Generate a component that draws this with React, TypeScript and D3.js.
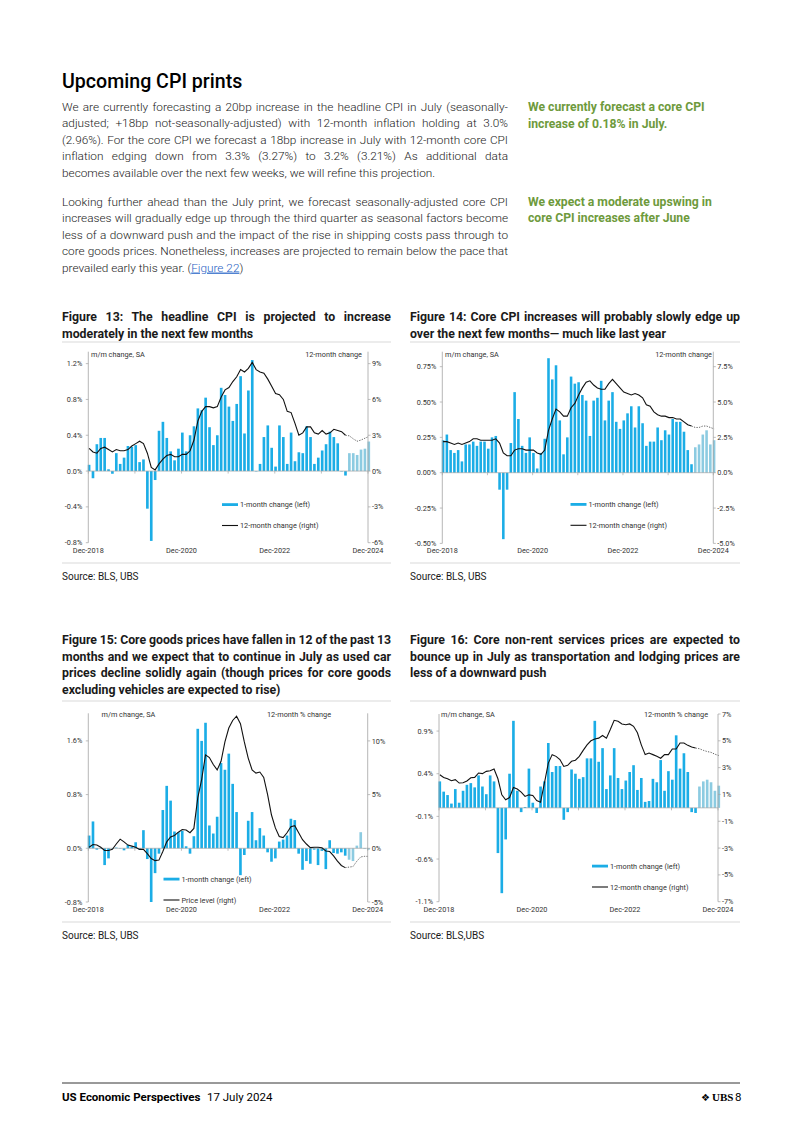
import React, { useEffect, useRef } from 'react';
import * as d3 from 'd3';

// monthly categories, Dec-2018 .. Dec-2024 (Jul-2024 onward is the UBS forecast)
const months = d3.timeMonth
  .range(new Date(2018, 11, 1), new Date(2025, 0, 1))
  .map(d3.timeFormat('%b-%Y'));
const firstForecast = 'Jul-2024';
const dateLabels = ['Dec-2018', 'Dec-2020', 'Dec-2022', 'Dec-2024'];
const yearTicks = ['Dec-2018', 'Dec-2019', 'Dec-2020', 'Dec-2021', 'Dec-2022', 'Dec-2023', 'Dec-2024'];

// Figure 13: headline CPI
const headlineMoM = [
  0.07, -0.08, 0.30, 0.37, 0.37, 0.02, -0.03, 0.20, 0.08, 0.15, 0.28, 0.27, 0.29,
  0.10, 0.13, -0.42, -0.78, -0.10, 0.45, 0.55, 0.37, 0.22, 0.12, 0.25, 0.43,
  0.22, 0.40, 0.50, 0.70, 0.68, 0.82, 0.49, 0.29, 0.40, 0.93, 0.85, 0.72,
  0.56, 0.75, 1.06, 0.42, 0.90, 1.24, 0.00, 0.08, 0.38, 0.51, 0.26, 0.05,
  0.51, 0.38, 0.08, 0.43, 0.11, 0.21, 0.20, 0.50, 0.38, 0.08, 0.15, 0.23,
  0.30, 0.44, 0.38, 0.31, 0.00, -0.05, 0.20, 0.20, 0.18, 0.24, 0.25, 0.33,
];
const headlineYoY = [
  1.9, 1.6, 1.5, 1.9, 2.0, 1.8, 1.6, 1.8, 1.7, 1.7, 1.8, 2.1, 2.3,
  2.5, 2.3, 1.5, 0.3, 0.1, 0.6, 1.0, 1.3, 1.4, 1.2, 1.2, 1.4,
  1.4, 1.7, 2.6, 4.2, 5.0, 5.4, 5.4, 5.3, 5.4, 6.2, 6.8, 7.0,
  7.5, 7.9, 8.5, 8.3, 8.6, 9.1, 8.5, 8.3, 8.2, 7.7, 7.1, 6.5,
  6.4, 6.0, 5.0, 4.9, 4.0, 3.0, 3.2, 3.7, 3.7, 3.2, 3.1, 3.4,
  3.1, 3.2, 3.5, 3.4, 3.3, 3.0, 2.95, 2.7, 2.5, 2.6, 2.75, 2.9,
];

// Figure 14: core CPI
const coreMoM = [
  0.23, 0.27, 0.16, 0.14, 0.16, 0.08, 0.20, 0.20, 0.22, 0.19, 0.22, 0.22, 0.17,
  0.25, 0.26, -0.12, -0.47, -0.12, 0.21, 0.57, 0.38, 0.19, 0.14, 0.25, 0.14,
  0.03, 0.14, 0.24, 0.81, 0.66, 0.76, 0.37, 0.13, 0.25, 0.68, 0.63, 0.64,
  0.55, 0.51, 0.26, 0.51, 0.53, 0.65, 0.37, 0.51, 0.57, 0.36, 0.31, 0.37,
  0.42, 0.47, 0.32, 0.47, 0.35, 0.19, 0.22, 0.22, 0.32, 0.23, 0.30, 0.27,
  0.38, 0.36, 0.36, 0.29, 0.16, 0.06, 0.18, 0.20, 0.27, 0.30, 0.20, 0.23,
];
const coreYoY = [
  2.2, 2.2, 2.1, 2.0, 2.1, 2.0, 2.1, 2.2, 2.4, 2.4, 2.3, 2.3, 2.3,
  2.3, 2.4, 2.1, 1.4, 1.2, 1.2, 1.6, 1.7, 1.7, 1.6, 1.6, 1.6,
  1.4, 1.3, 1.6, 3.0, 3.8, 4.5, 4.3, 4.0, 4.0, 4.6, 4.9, 5.5,
  6.0, 6.4, 6.5, 6.2, 6.0, 5.9, 5.9, 6.3, 6.6, 6.3, 6.0, 5.7,
  5.6, 5.5, 5.6, 5.5, 5.3, 4.8, 4.7, 4.3, 4.1, 4.0, 4.0, 3.9,
  3.9, 3.8, 3.8, 3.6, 3.4, 3.3, 3.2, 3.2, 3.3, 3.3, 3.2, 3.1,
];

// Figure 15: core goods
const goodsMoM = [
  0.19, 0.40, -0.02, 0.00, -0.25, -0.15, 0.00, 0.01, 0.00, -0.03, 0.05, 0.02, 0.09,
  -0.02, 0.27, -0.16, -0.80, -0.37, -0.08, 0.57, 0.93, 0.71, 0.25, 0.24, 0.26,
  0.03, -0.08, 0.18, 1.78, 1.60, 1.87, 0.34, 0.22, 0.47, 1.27, 1.17, 1.41,
  0.96, 0.54, -0.40, -0.10, 0.41, 0.54, 0.12, 0.30, 0.19, -0.06, -0.20, -0.15,
  0.10, 0.13, 0.19, 0.44, 0.42, -0.08, -0.32, -0.19, -0.23, -0.02, -0.25, -0.04,
  -0.31, 0.12, -0.07, -0.08, -0.06, -0.11, -0.17, -0.19, 0.04, 0.24, -0.01, -0.02,
];
const goodsYoY = [
  0.1, 0.35, 0.3, 0.1, -0.2, -0.2, -0.1, 0.4, 0.85, 0.6, 0.3, 0.2, 0.1,
  -0.1, -0.1, -0.5, -0.95, -1.15, -1.1, -0.3, 0.6, 1.05, 1.2, 1.5, 1.75,
  1.7, 1.45, 1.85, 4.7, 6.4, 8.7, 8.45, 7.8, 7.3, 8.1, 9.9, 11.2,
  11.9, 12.3, 11.6, 9.9, 8.4, 7.3, 7.0, 7.1, 6.6, 5.0, 3.1, 1.9,
  1.1, 1.0, 1.45, 2.0, 2.1, 1.45, 0.8, 0.4, 0.06, 0.1, 0.1, 0.05,
  -0.25, -0.3, -0.7, -1.2, -1.6, -1.8, -1.75, -1.7, -1.2, -0.8, -0.75, -0.75,
];

// Figure 16: core non-rent services
const servicesMoM = [
  0.31, 0.19, 0.15, 0.05, 0.22, 0.06, 0.20, 0.27, 0.29, 0.24, 0.38, 0.25, 0.16,
  0.38, 0.31, -0.53, -1.00, -0.37, 0.40, 1.02, 0.20, -0.05, 0.01, 0.46, 0.06,
  -0.06, 0.25, 0.31, 0.76, 0.42, 0.49, 0.49, -0.14, -0.05, 0.45, 0.40, 0.34,
  0.36, 0.58, 0.58, 1.02, 0.54, 0.70, 0.22, 0.38, 0.70, 0.35, 0.22, 0.32,
  0.42, 0.50, 0.21, 0.35, 0.07, 0.08, 0.34, 0.30, 0.56, 0.20, 0.43, 0.33,
  0.85, 0.46, 0.64, 0.42, -0.05, -0.06, 0.25, 0.31, 0.33, 0.30, 0.20, 0.26,
];
const servicesYoY = [
  2.47, 2.27, 2.17, 2.02, 2.1, 1.85, 1.87, 2.0, 2.24, 2.27, 2.6, 2.55, 2.72,
  2.77, 2.9, 2.17, 0.97, 0.6, 0.77, 1.52, 1.4, 1.17, 0.85, 0.97, 0.92,
  0.55, 0.42, 1.85, 3.34, 3.97, 3.84, 3.6, 3.09, 3.17, 3.47, 3.55, 3.84,
  4.29, 4.7, 5.0, 5.14, 5.2, 5.4, 5.2, 5.84, 6.53, 6.46, 6.26, 6.2,
  6.26, 6.08, 5.6, 4.7, 3.97, 4.09, 3.97, 3.84, 3.7, 3.97, 3.97, 4.39,
  4.39, 4.84, 4.84, 4.66, 4.54, 4.46, 4.41, 4.29, 4.2, 4.14, 4.0, 3.9,
];

const para1 = [
  'We are currently forecasting a 20bp increase in the headline CPI in July (seasonally-',
  'adjusted; +18bp not-seasonally-adjusted) with 12-month inflation holding at 3.0%',
  '(2.96%). For the core CPI we forecast a 18bp increase in July with 12-month core CPI',
  'inflation edging down from 3.3% (3.27%) to 3.2% (3.21%) As additional data',
  'becomes available over the next few weeks, we will refine this projection.',
];
const para2 = [
  'Looking further ahead than the July print, we forecast seasonally-adjusted core CPI',
  'increases will gradually edge up through the third quarter as seasonal factors become',
  'less of a downward push and the impact of the rise in shipping costs pass through to',
  'core goods prices. Nonetheless, increases are projected to remain below the pace that',
];

const BLUE = '#1badE6';
const LIGHT = '#8ccbe1';
const AXIS = '#a3a3a3';
const GREEN = '#6e9a3c';
const FONT = "Roboto, 'Liberation Sans', sans-serif";

const minus = (s: string) => s.replace('−', '-');
const pct1 = (d: number) => minus(d3.format('.1%')(d / 100));
const pct2 = (d: number) => minus(d3.format('.2%')(d / 100));

type Panel = {
  x0: number; x1: number; y0: number; y1: number;
  left: [number, number]; right: [number, number];
  leftTicks: number[]; rightTicks: number[];
  leftFmt: (d: number) => string; rightFmt: (d: number) => string;
  bars: number[]; line: number[];
  headL: [number, number]; headR: [number, number]; headRText: string;
  leg: [number, number]; legLine: string;
  labelY: number;
};

function drawPanel(node: SVGGElement, p: Panel) {
  const g = d3.select(node);
  g.selectAll('*').remove();
  const x = d3.scalePoint<string>().domain(months).range([p.x0, p.x1]);
  const yL = d3.scaleLinear().domain(p.left).range([p.y1, p.y0]);
  const yR = d3.scaleLinear().domain(p.right).range([p.y1, p.y0]);
  const bw = x.step() * 0.68;
  const cx = (m: string) => (x(m) as number) + 0.8;
  const fIdx = months.indexOf(firstForecast);

  // bars
  g.append('g')
    .selectAll('rect')
    .data(p.bars.map((v, i) => ({ v, i, m: months[i] })))
    .join('rect')
    .attr('x', d => cx(d.m) - bw / 2)
    .attr('y', d => Math.min(yL(d.v), yL(0)))
    .attr('width', bw)
    .attr('height', d => Math.max(0.4, Math.abs(yL(d.v) - yL(0))))
    .attr('fill', d => (d.i >= fIdx ? LIGHT : BLUE));

  // zero line with yearly ticks
  g.append('line')
    .attr('x1', p.x0).attr('x2', p.x1)
    .attr('y1', yL(0)).attr('y2', yL(0))
    .attr('stroke', AXIS).attr('stroke-width', 0.7);
  g.append('g')
    .selectAll('line')
    .data(yearTicks)
    .join('line')
    .attr('x1', d => x(d) as number).attr('x2', d => x(d) as number)
    .attr('y1', yL(0)).attr('y2', yL(0) + 2.5)
    .attr('stroke', AXIS).attr('stroke-width', 0.7);

  // 12-month line: actual solid, forecast dotted
  const solid = p.line.slice(0, fIdx);
  g.append('path')
    .attr('d', d3.line<number>().x((_, i) => cx(months[i])).y(d => yR(d))(solid))
    .attr('fill', 'none').attr('stroke', '#111').attr('stroke-width', 1.1);
  const dotted = p.line.slice(fIdx - 1);
  g.append('path')
    .attr('d', d3.line<number>().x((_, i) => cx(months[i + fIdx - 1])).y(d => yR(d))(dotted))
    .attr('fill', 'none').attr('stroke', '#555').attr('stroke-width', 0.9)
    .attr('stroke-dasharray', '1.3 1.3');

  // axes
  const ax = g.append('g').attr('font-family', FONT).attr('font-size', 7.3).attr('fill', '#333');
  ax.append('line').attr('x1', p.x0).attr('x2', p.x0).attr('y1', p.y0).attr('y2', p.y1)
    .attr('stroke', AXIS).attr('stroke-width', 0.8);
  ax.append('line').attr('x1', p.x1).attr('x2', p.x1).attr('y1', p.y0).attr('y2', p.y1)
    .attr('stroke', AXIS).attr('stroke-width', 0.8);
  p.leftTicks.forEach(t => {
    ax.append('line').attr('x1', p.x0 - 2.5).attr('x2', p.x0).attr('y1', yL(t)).attr('y2', yL(t))
      .attr('stroke', AXIS).attr('stroke-width', 0.7);
    ax.append('text').attr('x', p.x0 - 6).attr('y', yL(t) + 2.6).attr('text-anchor', 'end').text(p.leftFmt(t));
  });
  p.rightTicks.forEach(t => {
    ax.append('line').attr('x1', p.x1).attr('x2', p.x1 + 2.5).attr('y1', yR(t)).attr('y2', yR(t))
      .attr('stroke', AXIS).attr('stroke-width', 0.7);
    ax.append('text').attr('x', p.x1 + 4).attr('y', yR(t) + 2.6).text(p.rightFmt(t));
  });
  dateLabels.forEach(m => {
    ax.append('text').attr('x', x(m) as number).attr('y', p.labelY).attr('text-anchor', 'middle').text(m);
  });
  ax.append('text').attr('x', p.headL[0]).attr('y', p.headL[1]).text('m/m change, SA');
  ax.append('text').attr('x', p.headR[0]).attr('y', p.headR[1]).attr('text-anchor', 'end').text(p.headRText);

  // legend
  const [lx, ly] = p.leg;
  ax.append('rect').attr('x', lx).attr('y', ly - 1.3).attr('width', 16).attr('height', 2.8).attr('fill', BLUE);
  ax.append('text').attr('x', lx + 18).attr('y', ly + 2.6).text('1-month change (left)');
  ax.append('line').attr('x1', lx).attr('x2', lx + 16).attr('y1', ly + 21).attr('y2', ly + 21)
    .attr('stroke', '#111').attr('stroke-width', 1.1);
  ax.append('text').attr('x', lx + 18).attr('y', ly + 23.6).text(p.legLine);
}

const panels: Panel[] = [
  {
    x0: 88.3, x1: 368, y0: 351.7, y1: 542.7, left: [-0.8, 4 / 3], right: [-6, 10],
    leftTicks: [-0.8, -0.4, 0, 0.4, 0.8, 1.2], rightTicks: [-6, -3, 0, 3, 6, 9],
    leftFmt: pct1, rightFmt: d => minus(`${d}%`),
    bars: headlineMoM, line: headlineYoY,
    headL: [91, 357], headR: [362, 357], headRText: '12-month change',
    leg: [222, 504.5], legLine: '12-month change (right)', labelY: 553,
  },
  {
    x0: 442.3, x1: 713.3, y0: 351.7, y1: 543.4, left: [-0.5, 0.856], right: [-5, 8.56],
    leftTicks: [-0.5, -0.25, 0, 0.25, 0.5, 0.75], rightTicks: [-5, -2.5, 0, 2.5, 5, 7.5],
    leftFmt: pct2, rightFmt: pct1,
    bars: coreMoM, line: coreYoY,
    headL: [445, 357], headR: [712, 357], headRText: '12-month change',
    leg: [570.5, 504.3], legLine: '12-month change (right)', labelY: 553,
  },
  {
    x0: 88.3, x1: 367.7, y0: 713.3, y1: 902, left: [-0.8, 2.011], right: [-5, 12.57],
    leftTicks: [-0.8, 0, 0.8, 1.6], rightTicks: [-5, 0, 5, 10],
    leftFmt: pct1, rightFmt: d => minus(`${d}%`),
    bars: goodsMoM, line: goodsYoY,
    headL: [101.5, 717], headR: [331, 717], headRText: '12-month % change',
    leg: [163.5, 879], legLine: 'Price level (right)', labelY: 912,
  },
  {
    x0: 439, x1: 718, y0: 714, y1: 901.7, left: [-1.1, 1.1], right: [-7, 7],
    leftTicks: [-1.1, -0.6, -0.1, 0.4, 0.9], rightTicks: [-7, -5, -3, -1, 1, 3, 5, 7],
    leftFmt: pct1, rightFmt: d => minus(`${d}%`),
    bars: servicesMoM, line: servicesYoY,
    headL: [441, 717], headR: [708, 717], headRText: '12-month % change',
    leg: [592, 866], legLine: '12-month change (right)', labelY: 912,
  },
];

function Chart({ p }: { p: Panel }) {
  const ref = useRef<SVGGElement>(null);
  useEffect(() => {
    if (ref.current) drawPanel(ref.current, p);
  }, [p]);
  return <g ref={ref} />;
}

type TP = { x: number; y: number; w?: number; size?: number; weight?: number; fill?: string; children: string };

// text line; when w is given the line is justified by widening the word gaps
function T({ x, y, w, size = 12, weight = 400, fill = '#1a1a1a', children }: TP) {
  const ref = useRef<SVGTextElement>(null);
  useEffect(() => {
    const el = ref.current;
    if (!el || !w) return;
    el.style.wordSpacing = '0px';
    const gaps = (children.match(/ /g) || []).length;
    const len = el.getComputedTextLength();
    if (gaps) el.style.wordSpacing = `${(w - len) / gaps}px`;
  }, [w, children]);
  return (
    <text ref={ref} x={x} y={y} fontSize={size} fontWeight={weight} fill={fill}>{children}</text>
  );
}

export default function App() {
  const TS = 12.3;
  return (
    <div style={{ position: 'absolute', left: 0, top: 0 }}>
      <svg width={802} height={1134} style={{ display: 'block', background: '#fff' }} fontFamily={FONT}>
        <T x={62} y={88} size={19.6} weight={500} fill="#000">Upcoming CPI prints</T>

        {para1.map((s, i) => (
          <T key={s} x={62} y={111 + i * 16.4} size={11.8} weight={300} w={i < 4 ? 446 : undefined}>{s}</T>
        ))}
        <T x={528} y={111} size={12.2} weight={700} fill={GREEN}>We currently forecast a core CPI</T>
        <T x={528} y={127.5} size={12.2} weight={700} fill={GREEN}>increase of 0.18% in July.</T>

        {para2.map((s, i) => (
          <T key={s} x={62} y={206 + i * 16.4} size={11.8} weight={300} w={446}>{s}</T>
        ))}
        <text x={62} y={271.6} fontSize={11.8} fontWeight={300} fill="#1a1a1a">
          prevailed early this year. (
          <tspan fill="#1f5fc4" textDecoration="underline">Figure 22</tspan>)
        </text>
        <T x={528} y={206} size={12.2} weight={700} fill={GREEN}>We expect a moderate upswing in</T>
        <T x={528} y={222.4} size={12.2} weight={700} fill={GREEN}>core CPI increases after June</T>

        {/* figure titles */}
        <T x={62} y={321} size={TS} weight={700} w={329}>Figure 13: The headline CPI is projected to increase</T>
        <T x={62} y={337.5} size={TS} weight={700}>moderately in the next few months</T>
        <T x={410} y={321} size={TS} weight={700} w={330}>Figure 14: Core CPI increases will probably slowly edge up</T>
        <T x={410} y={337.5} size={TS} weight={700}>over the next few months— much like last year</T>

        <T x={62} y={644} size={TS} weight={700} w={329}>Figure 15: Core goods prices have fallen in 12 of the past 13</T>
        <T x={62} y={660.5} size={TS} weight={700} w={329}>months and we expect that to continue in July as used car</T>
        <T x={62} y={677} size={TS} weight={700} w={329}>prices decline solidly again (though prices for core goods</T>
        <T x={62} y={693.5} size={TS} weight={700}>excluding vehicles are expected to rise)</T>
        <T x={410} y={644} size={TS} weight={700} w={330}>Figure 16: Core non-rent services prices are expected to</T>
        <T x={410} y={660.5} size={TS} weight={700} w={330}>bounce up in July as transportation and lodging prices are</T>
        <T x={410} y={677} size={TS} weight={700}>less of a downward push</T>

        {/* panel rules */}
        <g stroke="#cfcfcf" strokeWidth={0.8}>
          <line x1={62} x2={391} y1={342} y2={342} />
          <line x1={410} x2={740} y1={342} y2={342} />
          <line x1={62} x2={391} y1={563} y2={563} />
          <line x1={410} x2={740} y1={563} y2={563} />
          <line x1={62} x2={391} y1={701} y2={701} />
          <line x1={410} x2={740} y1={701} y2={701} />
          <line x1={62} x2={391} y1={922} y2={922} />
          <line x1={410} x2={740} y1={922} y2={922} />
        </g>

        {panels.map((p, i) => <Chart key={i} p={p} />)}

        <T x={62} y={579.5} size={10}>Source: BLS, UBS</T>
        <T x={410} y={579.5} size={10}>Source: BLS, UBS</T>
        <T x={62} y={938.5} size={10}>Source: BLS, UBS</T>
        <T x={410} y={938.5} size={10}>Source: BLS,UBS</T>

        {/* footer */}
        <line x1={62} x2={740} y1={1083} y2={1083} stroke="#000" strokeWidth={0.8} />
        <T x={62} y={1101} size={11.5} weight={700} fill="#000">US Economic Perspectives</T>
        <T x={207} y={1101} size={11.5} fill="#000">17 July 2024</T>
        <text x={701} y={1101} fontSize={10} fontFamily="'DejaVu Sans'" fill="#000">❖</text>
        <text x={712} y={1101} fontSize={11} fontWeight={700} fontFamily="'Liberation Serif', serif" fill="#000">UBS</text>
        <T x={735} y={1101} size={11.5} fill="#000">8</T>
      </svg>
    </div>
  );
}
